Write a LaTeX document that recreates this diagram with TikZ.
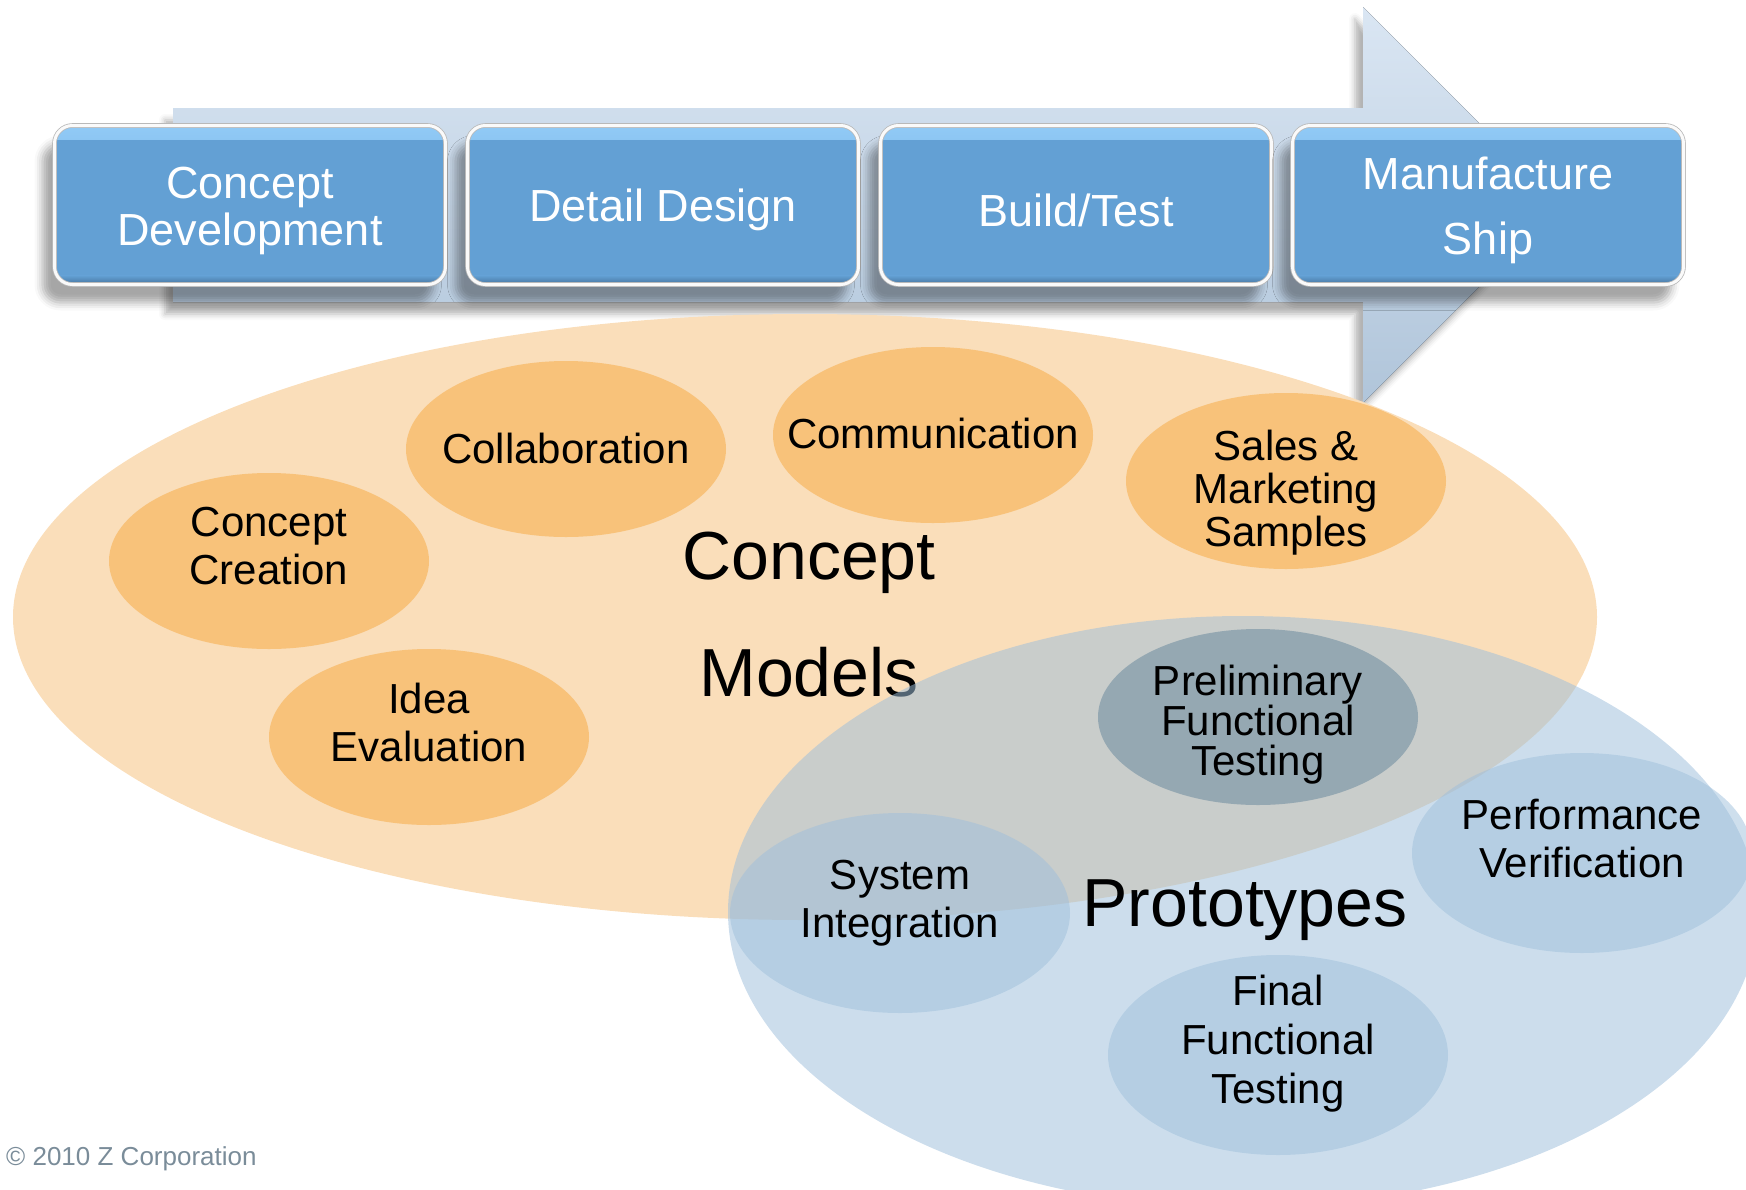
\documentclass[tikz,border=0pt]{standalone}
\usepackage{fontspec}
\setmainfont{Liberation Sans}
\usepackage{xcolor}
\usetikzlibrary{shapes.geometric,shadows.blur}

\definecolor{stageblue}{RGB}{99,160,212}
\definecolor{stagetop}{RGB}{145,202,246}
\definecolor{stagebot}{RGB}{70,116,158}
\definecolor{arrowtop}{RGB}{218,230,243}
\definecolor{arrowbot}{RGB}{176,197,218}
\definecolor{peachbig}{RGB}{250,222,186}
\definecolor{peachbub}{RGB}{248,194,122}
\definecolor{protoblue}{RGB}{158,191,219}
\definecolor{prelim}{RGB}{149,168,178}
\definecolor{copygray}{RGB}{122,140,153}

% pushes the stage labels a little lower in their boxes
\newcommand{\stagestrut}{\rule{0pt}{43pt}}

\begin{document}
\begin{tikzpicture}[x=1pt,y=-1pt,
    stage/.style={rounded corners=18pt, fill=stageblue, draw=gray!55, line width=.8pt,
      double=white!96!gray, double distance=3pt, minimum width=391pt, minimum height=159pt,
      inner sep=0pt, text=white, align=center, font=\fontsize{45}{47}\selectfont,
      blur shadow={shadow xshift=-12pt, shadow yshift=-18pt, shadow blur radius=8pt, shadow opacity=35},
      path picture={
        \shade[sharp corners, top color=stagetop, bottom color=stageblue]
          (path picture bounding box.north west) rectangle ([yshift=-14pt]path picture bounding box.north east);
        \shade[sharp corners, top color=stageblue, bottom color=stagebot]
          ([yshift=9pt]path picture bounding box.south west) rectangle (path picture bounding box.south east);}},
    bubble/.style={ellipse, fill=peachbub, minimum width=320pt, minimum height=176pt, inner sep=0pt},
    pbubble/.style={ellipse, fill=protoblue, fill opacity=.5, minimum width=340pt, minimum height=200pt, inner sep=0pt},
    lbl/.style={align=center, inner sep=0pt, font=\fontsize{42}{48}\selectfont},
    big/.style={align=center, inner sep=0pt, font=\fontsize{68}{117}\selectfont}]
  \useasboundingbox (0,0) rectangle (1746,1189);
  \clip (0,0) rectangle (1746,1189);

  % process arrow and stages
  \fill[top color=arrowtop, bottom color=arrowbot,
    blur shadow={shadow xshift=-8pt, shadow yshift=-12pt, shadow blur radius=6pt, shadow opacity=30}]
    (173,108) -- (1363,108) -- (1363,7) -- (1561,205) -- (1363,403) -- (1363,302) -- (173,302) -- cycle;
  \node[stage] (cd) at (250,205) {\stagestrut Concept\\Development};
  \node[stage] (dd) at (663,205) {\stagestrut Detail Design};
  \node[stage] (bt) at (1076,205) {\stagestrut Build/Test};
  \node[stage, font=\fontsize{45}{65}\selectfont] (ms) at (1488,205) {\stagestrut Manufacture\\Ship};

  % concept models
  \fill[peachbig] (805,617) ellipse [x radius=792pt, y radius=303pt];
  \node[bubble] (ccr) at (269,561) {};
  \node[bubble] (col) at (566,449) {};
  \node[bubble] (com) at (933,435) {};
  \node[bubble] (sms) at (1286,481) {};
  \node[bubble] (ide) at (429,737) {};
  \node[lbl] (ccr-t) at (269,546) {Concept\\Creation};
  \node[lbl] (col-t) at (566,448) {Collaboration};
  \node[lbl] (com-t) at (933,433) {Communication};
  \node[lbl, font=\fontsize{42}{43}\selectfont] (sms-t) at (1286,493) {Sales \&\\Marketing\\Samples};
  \node[lbl] (ide-t) at (429,722) {Idea\\Evaluation};
  \node[big] (cm) at (809,615) {Concept\\Models};

  % prototypes
  \fill[protoblue, fill opacity=.53] (1243,912) ellipse [x radius=515pt, y radius=296pt];
  \node[bubble, fill=prelim] (pft) at (1258,717) {};
  \node[pbubble] (sys) at (900,913) {};
  \node[pbubble] (pv) at (1582,853) {};
  \node[pbubble] (fft) at (1278,1055) {};
  \node[lbl, font=\fontsize{42}{40}\selectfont] (pft-t) at (1258,725) {Preliminary\\Functional\\Testing};
  \node[lbl] (sys-t) at (900,903) {System\\Integration};
  \node[lbl] (pv-t) at (1582,838) {Performance\\Verification};
  \node[lbl, font=\fontsize{42}{49}\selectfont] (fft-t) at (1278,1044) {Final\\Functional\\Testing};
  \node[big] (pro) at (1245,910) {Prototypes};

  \node[anchor=west, inner sep=0pt, text=copygray, font=\fontsize{26}{30}\selectfont] (copy) at (6,1159) {© 2010 Z Corporation};
\end{tikzpicture}
\end{document}
